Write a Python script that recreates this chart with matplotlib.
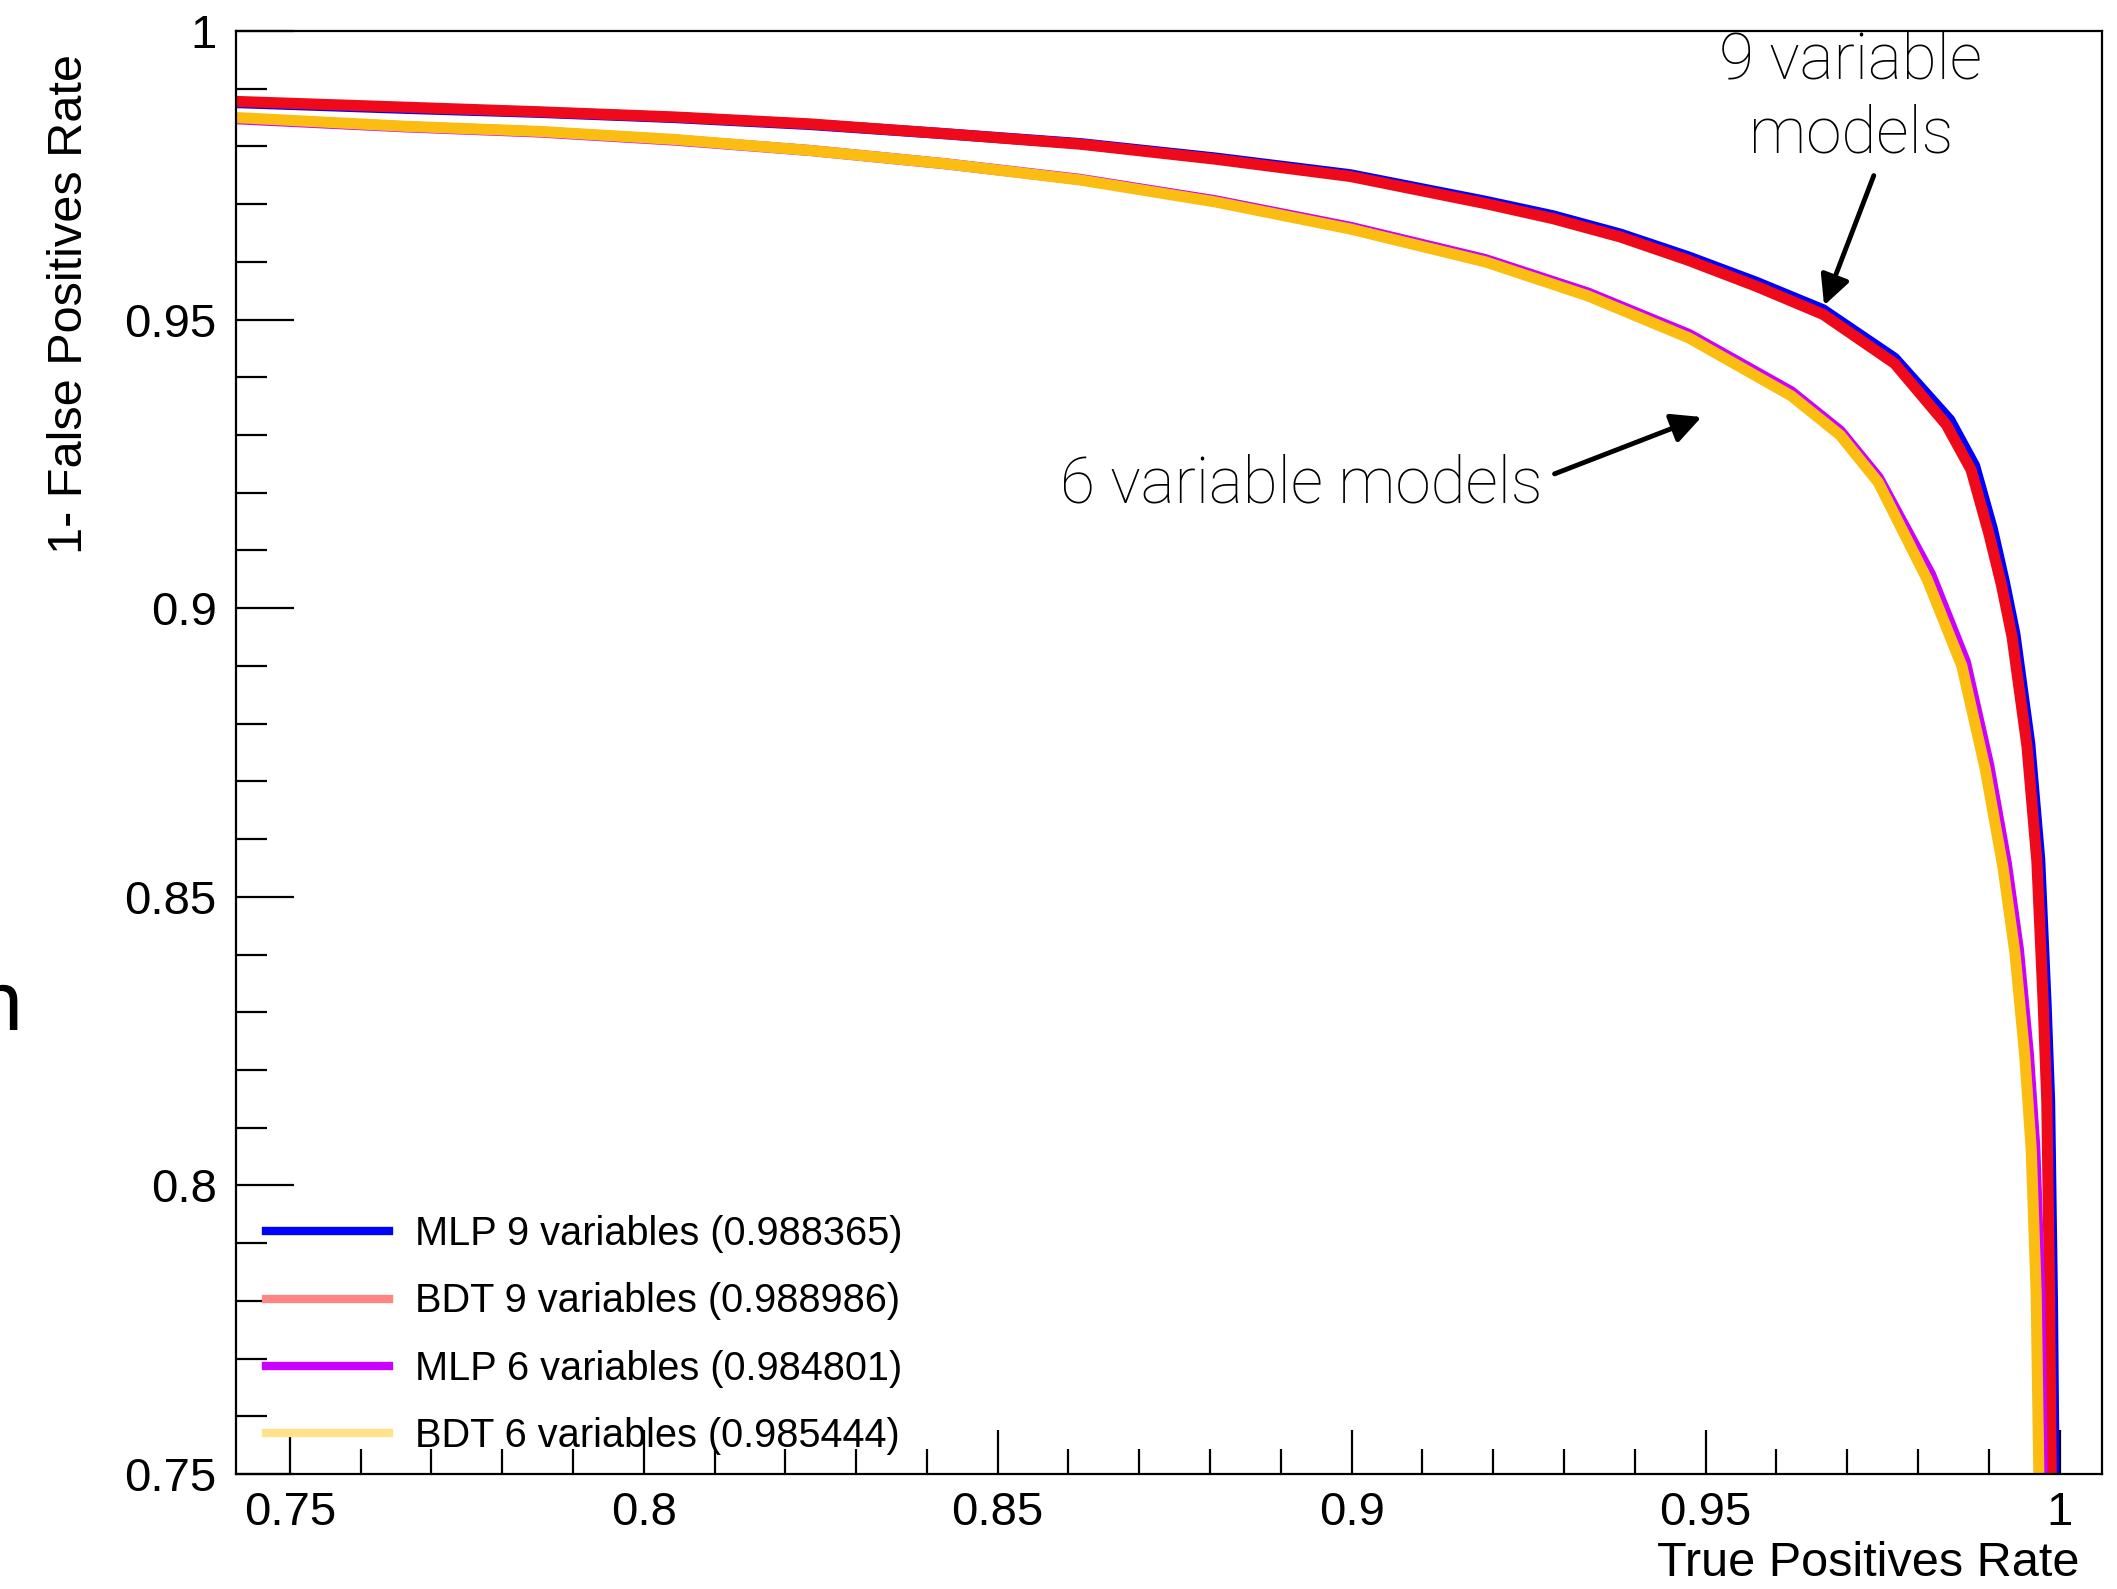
import matplotlib
matplotlib.use("Agg")
import matplotlib.pyplot as plt
from matplotlib.lines import Line2D
from matplotlib.ticker import MultipleLocator

# ROC curves: (true positive rate, 1 - false positive rate)
mlp9_x = [0.7424, 0.7663, 0.7853, 0.8044, 0.8235, 0.8426, 0.8616, 0.8807, 0.8998, 0.9189, 0.9284,
          0.9380, 0.9475, 0.9571, 0.9666, 0.9767, 0.9845, 0.9880, 0.9905, 0.9922, 0.9937, 0.9958,
          0.9972, 0.9981, 0.9986, 0.9990, 0.9993]
mlp9_y = [0.9876, 0.9866, 0.9859, 0.9850, 0.9838, 0.9822, 0.9805, 0.9780, 0.9751, 0.9705, 0.9680,
          0.9648, 0.9609, 0.9565, 0.9517, 0.9433, 0.9326, 0.9247, 0.9138, 0.9046, 0.8955, 0.8765,
          0.8565, 0.8315, 0.8146, 0.7801, 0.7400]

bdt9_x = [0.7424, 0.7663, 0.7853, 0.8044, 0.8235, 0.8426, 0.8616, 0.8807, 0.8998, 0.9189, 0.9284,
          0.9380, 0.9475, 0.9571, 0.9666, 0.9767, 0.9840, 0.9875, 0.9900, 0.9918, 0.9933, 0.9954,
          0.9968, 0.9977, 0.9982, 0.9986, 0.9989]
bdt9_y = [0.9878, 0.9868, 0.9860, 0.9851, 0.9839, 0.9822, 0.9804, 0.9778, 0.9748, 0.9701, 0.9675,
          0.9643, 0.9603, 0.9558, 0.9509, 0.9424, 0.9318, 0.9240, 0.9130, 0.9040, 0.8950, 0.8761,
          0.8562, 0.8313, 0.8146, 0.7801, 0.7400]

mlp6_x = [0.7424, 0.7662, 0.7853, 0.8044, 0.8235, 0.8426, 0.8616, 0.8807, 0.8998, 0.9189, 0.9334,
          0.9477, 0.9621, 0.9690, 0.9744, 0.9818, 0.9867, 0.9900, 0.9925, 0.9942, 0.9956, 0.9965,
          0.9972, 0.9977]
mlp6_y = [0.9848, 0.9834, 0.9825, 0.9811, 0.9793, 0.9770, 0.9743, 0.9706, 0.9660, 0.9604, 0.9546,
          0.9474, 0.9375, 0.9307, 0.9226, 0.9058, 0.8907, 0.8728, 0.8557, 0.8408, 0.8228, 0.8068,
          0.7819, 0.7400]

bdt6_x = [0.7424, 0.7662, 0.7853, 0.8044, 0.8235, 0.8426, 0.8616, 0.8807, 0.8998, 0.9189, 0.9334,
          0.9477, 0.9621, 0.9690, 0.9744, 0.9813, 0.9862, 0.9895, 0.9920, 0.9937, 0.9951, 0.9960,
          0.9967, 0.9972]
bdt6_y = [0.9850, 0.9835, 0.9826, 0.9812, 0.9793, 0.9770, 0.9742, 0.9704, 0.9657, 0.9600, 0.9541,
          0.9468, 0.9368, 0.9300, 0.9218, 0.9050, 0.8900, 0.8722, 0.8552, 0.8403, 0.8223, 0.8063,
          0.7814, 0.7400]

labels = ["MLP 9 variables (0.988365)", "BDT 9 variables (0.988986)",
          "MLP 6 variables (0.984801)", "BDT 6 variables (0.985444)"]

plt.rcParams['font.family'] = ['Liberation Sans', 'DejaVu Sans']

fig = plt.figure(figsize=(21.17, 15.89), dpi=100)
ax = fig.add_axes([236 / 2117, 1 - 1474 / 1589, 1866 / 2117, 1443 / 1589])

lw = 8
ax.plot(mlp9_x, mlp9_y, color='#0000ff', lw=lw, solid_capstyle='butt', solid_joinstyle='round')
ax.plot(bdt9_x, bdt9_y, color='#ee0a1a', lw=lw, solid_capstyle='butt', solid_joinstyle='round')
ax.plot(mlp6_x, mlp6_y, color='#cc00ff', lw=lw, solid_capstyle='butt', solid_joinstyle='round')
ax.plot(bdt6_x, bdt6_y, color='#fbbd12', lw=lw, solid_capstyle='butt', solid_joinstyle='round')

ax.set_xlim(0.7424, 1.006)
ax.set_ylim(0.75, 1.0)

ax.xaxis.set_major_locator(MultipleLocator(0.05))
ax.xaxis.set_minor_locator(MultipleLocator(0.01))
ax.yaxis.set_major_locator(MultipleLocator(0.05))
ax.yaxis.set_minor_locator(MultipleLocator(0.01))
ax.xaxis.set_major_formatter(lambda v, p: f"{v:g}")
ax.yaxis.set_major_formatter(lambda v, p: f"{v:g}")

ax.tick_params(axis='both', which='both', direction='in', width=1.6, labelsize=34,
               top=False, right=False)
ax.tick_params(axis='x', which='major', length=32, pad=12)
ax.tick_params(axis='x', which='minor', length=18)
ax.tick_params(axis='y', which='major', length=42, pad=14)
ax.tick_params(axis='y', which='minor', length=22)
for s in ax.spines.values():
    s.set_linewidth(1.6)

ax.text(0.9877, -0.0617, "True Positives Rate", transform=ax.transAxes,
        ha='right', va='center', fontsize=35)
fig.text(70 / 2117, 1 - 54 / 1589, "1- False Positives Rate", rotation=90,
         ha='center', va='top', fontsize=35)

handles = [Line2D([], [], color='#0000ff', lw=6),
           Line2D([], [], color='#ff8585', lw=6),
           Line2D([], [], color='#cc00ff', lw=6),
           Line2D([], [], color='#ffe28a', lw=6)]
ax.legend(handles, labels, loc='lower left', bbox_to_anchor=(0.016, 0.013),
          frameon=False, fontsize=28.6, handlelength=3.1, handletextpad=0.65,
          labelspacing=0.74, borderpad=0, borderaxespad=0)

# annotations
note_font = dict(family=['Roboto', 'DejaVu Sans'], fontweight='light', fontsize=46)
ax.text(0.9705, 0.9885, "9 variable\nmodels", ha='center', va='center',
        multialignment='center', linespacing=1.25, clip_on=False, **note_font)
ax.annotate('', xy=(0.9666, 0.9520), xytext=(0.9739, 0.9754),
            arrowprops=dict(arrowstyle='-|>', lw=3.5, color='black', mutation_scale=45))
ax.text(0.8929, 0.9215, "6 variable models", ha='center', va='center', **note_font)
ax.annotate('', xy=(0.9498, 0.9333), xytext=(0.9283, 0.9231),
            arrowprops=dict(arrowstyle='-|>', lw=3.5, color='black', mutation_scale=45))

# fragment of a word cut off at the slide's left edge
fig.text(22 / 2117, 1 - 1030 / 1589, "n", ha='right', va='baseline',
         family=['Roboto', 'DejaVu Sans'], fontsize=60)

fig.savefig("out.png", dpi=100)
